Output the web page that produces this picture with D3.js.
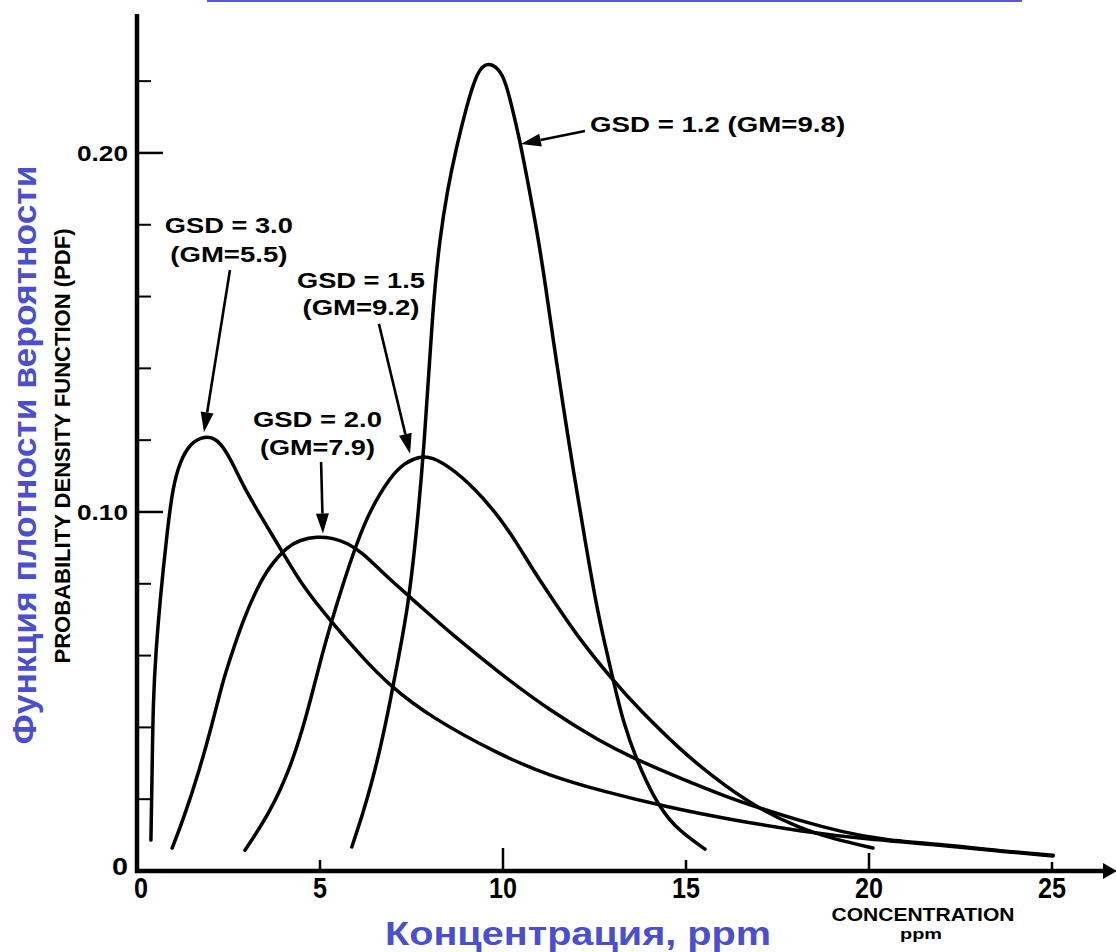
<!DOCTYPE html>
<html><head><meta charset="utf-8">
<script src="https://cdn.jsdelivr.net/npm/d3@7"></script>
<style>html,body{margin:0;padding:0;background:#fff;} svg{display:block}</style>
</head><body><svg id="c" width="1116" height="952"></svg>
<script>
// ---------- data ----------
const xTickValues = [0, 5, 10, 15, 20, 25];
const xTickLabels = ["0", "5", "10", "15", "20", "25"];
const yLabelValues = [0, 0.10, 0.20];
const yTickLabels = ["0", "0.10", "0.20"];
const yMajorTicks = [0.10, 0.20];
const yMinorTicks = [0.02, 0.04, 0.06, 0.08, 0.12, 0.14, 0.16, 0.18, 0.22];

// [concentration ppm, pdf]
const gsd30 = [[0.38,0.0086],[0.41,0.0253],[0.44,0.0476],[0.52,0.0616],[0.63,0.0755],[0.82,0.0942],[0.98,0.1070],[1.17,0.1139],[1.45,0.1192],[1.86,0.1212],[2.16,0.1204],[2.40,0.1175],[2.65,0.1128],[2.90,0.1073],[3.44,0.0978],[3.99,0.0886],[4.54,0.0791],[5.27,0.0699],[6.17,0.0593],[6.91,0.0516],[8.01,0.0429],[9.92,0.0323],[11.28,0.0265],[12.65,0.0224],[14.48,0.0178],[16.28,0.0142],[18.11,0.0111],[19.95,0.0088],[22.21,0.0070],[23.58,0.0055],[25.03,0.0042]];
const gsd20 = [[0.96,0.0064],[1.26,0.0142],[1.72,0.0285],[2.08,0.0420],[2.35,0.0530],[2.54,0.0590],[2.90,0.0699],[3.28,0.0788],[3.63,0.0850],[4.10,0.0903],[4.45,0.0922],[4.92,0.0932],[5.36,0.0927],[5.74,0.0914],[6.17,0.0886],[6.72,0.0830],[7.38,0.0770],[7.92,0.0721],[8.63,0.0657],[9.92,0.0550],[11.28,0.0447],[12.65,0.0361],[13.55,0.0315],[14.75,0.0262],[16.12,0.0206],[17.02,0.0175],[18.11,0.0140],[19.21,0.0110],[20.38,0.0086],[22.21,0.0072],[23.58,0.0056],[25.03,0.0044]];
const gsd15 = [[2.95,0.0058],[3.63,0.0162],[4.18,0.0285],[4.54,0.0400],[4.80,0.0500],[5.05,0.0600],[5.30,0.0690],[5.63,0.0800],[6.01,0.0915],[6.37,0.1005],[6.91,0.1097],[7.32,0.1138],[7.73,0.1155],[8.06,0.1153],[8.55,0.1125],[9.18,0.1070],[9.84,0.0994],[10.38,0.0914],[10.82,0.0838],[11.37,0.0755],[12.02,0.0655],[13.01,0.0530],[13.74,0.0448],[14.84,0.0338],[15.74,0.0262],[16.83,0.0182],[18.11,0.0118],[19.02,0.0090],[20.11,0.0064]];
const gsd12 = [[5.87,0.0067],[6.15,0.0153],[6.42,0.0248],[6.67,0.0351],[6.91,0.0468],[7.16,0.0602],[7.40,0.0735],[7.62,0.0922],[7.86,0.1201],[8.03,0.1479],[8.13,0.1618],[8.27,0.1758],[8.48,0.1897],[8.73,0.2017],[9.00,0.2128],[9.29,0.2228],[9.59,0.2256],[10.01,0.2226],[10.24,0.2129],[10.46,0.2036],[10.72,0.1897],[10.97,0.1758],[11.18,0.1618],[11.37,0.1479],[11.65,0.1292],[11.93,0.1109],[12.24,0.0922],[12.56,0.0735],[12.76,0.0643],[13.01,0.0532],[13.29,0.0412],[13.65,0.0309],[14.11,0.0206],[14.65,0.0123],[15.52,0.0061]];
const seriesList = [gsd30, gsd20, gsd15, gsd12];

const labelLines = [["GSD = 3.0", "(GM=5.5)"], ["GSD = 1.5", "(GM=9.2)"], ["GSD = 2.0", "(GM=7.9)"], ["GSD = 1.2 (GM=9.8)"]];

// ---------- layout ----------
const svg = d3.select("#c");
const x = d3.scaleLinear().domain([0, 25]).range([137, 1052]);
const y = d3.scaleLinear().domain([0, 0.2387]).range([871, 14]);
const BLUE = "#4b4fcc";
const SANS = "'Liberation Sans', Arial, sans-serif";

function txt(g, s, px, py, size, opts = {}) {
  const t = g.append("text").attr("x", px).attr("y", py).text(s)
    .attr("font-family", opts.family || SANS)
    .attr("font-weight", "bold")
    .attr("font-size", size)
    .attr("fill", opts.fill || "#000")
    .attr("text-anchor", opts.anchor || "start");
  if (opts.width) t.attr("textLength", opts.width).attr("lengthAdjust", "spacingAndGlyphs");
  if (opts.transform) t.attr("transform", opts.transform);
  return t;
}

// blue link remnant at very top
svg.append("line").attr("x1", 207).attr("x2", 1022).attr("y1", 1).attr("y2", 1)
  .attr("stroke", "#5a5acc").attr("stroke-width", 2);

// axes
const ax = svg.append("g");
ax.append("line").attr("x1", x(0)).attr("x2", x(0)).attr("y1", y(0) + 2).attr("y2", y(0.2387))
  .attr("stroke", "#000").attr("stroke-width", 4.5);
ax.append("line").attr("x1", x(0) - 2).attr("x2", 1104).attr("y1", y(0)).attr("y2", y(0))
  .attr("stroke", "#000").attr("stroke-width", 4.5);
ax.append("path").attr("d", `M1103,${y(0) - 8} L1117,${y(0)} L1103,${y(0) + 8} Z`).attr("fill", "#000");

// y ticks (inward)
yMajorTicks.forEach(v => ax.append("line").attr("x1", x(0)).attr("x2", x(0) + 26)
  .attr("y1", y(v)).attr("y2", y(v)).attr("stroke", "#000").attr("stroke-width", 2.5));
yMinorTicks.forEach(v => ax.append("line").attr("x1", x(0)).attr("x2", x(0) + 14)
  .attr("y1", y(v)).attr("y2", y(v)).attr("stroke", "#000").attr("stroke-width", 2));
yLabelValues.forEach((v, i) => {
  txt(ax, yTickLabels[i], 128, y(v) + 8 - (v === 0 ? 4 : 0), v === 0 ? 23 : 22,
    { anchor: "end", width: v === 0 ? 16 : 51 });
});

// x ticks (inward, upward)
const xTickLen = v => (v === 10 ? 23 : v === 20 ? 18 : v === 25 ? 9 : v === 0 ? 0 : 11);
xTickValues.forEach((v, i) => {
  if (xTickLen(v) > 0)
    ax.append("line").attr("x1", x(v)).attr("x2", x(v)).attr("y1", y(0)).attr("y2", y(0) - xTickLen(v))
      .attr("stroke", "#000").attr("stroke-width", 2.5);
  const s = xTickLabels[i];
  txt(ax, s, x(v) + (v === 0 ? 4 : 0), 898, 30, { anchor: "middle", width: s.length * 14 });
});

// curves
const line = d3.line().x(d => x(d[0])).y(d => y(d[1])).curve(d3.curveBasis);
svg.append("g").selectAll("path").data(seriesList).join("path")
  .attr("d", line).attr("fill", "none").attr("stroke", "#000")
  .attr("stroke-width", 3.5).attr("stroke-linejoin", "round").attr("stroke-linecap", "round");

// annotations (positioned in data units)
const ann = svg.append("g");
function arrow(d1, d2) {
  const x1 = x(d1[0]), y1 = y(d1[1]), x2 = x(d2[0]), y2 = y(d2[1]);
  const dx = x2 - x1, dy = y2 - y1, L = Math.hypot(dx, dy), ux = dx / L, uy = dy / L;
  const hl = 20, hw = 6.5;
  const bx = x2 - ux * hl, by = y2 - uy * hl;
  ann.append("line").attr("x1", x1).attr("y1", y1).attr("x2", bx).attr("y2", by)
    .attr("stroke", "#000").attr("stroke-width", 2.6);
  ann.append("path").attr("d", `M${x2},${y2} L${bx - uy * hw},${by + ux * hw} L${bx + uy * hw},${by - ux * hw} Z`)
    .attr("fill", "#000");
}
// GSD 3.0
txt(ann, labelLines[0][0], x(2.51), y(0.1777), 22, { anchor: "middle", width: 128 });
txt(ann, labelLines[0][1], x(2.51), y(0.1696), 22, { anchor: "middle", width: 117 });
arrow([2.54, 0.1674], [1.83, 0.1222]);
// GSD 1.5
txt(ann, labelLines[1][0], x(6.12), y(0.1624), 22, { anchor: "middle", width: 128 });
txt(ann, labelLines[1][1], x(6.12), y(0.1549), 22, { anchor: "middle", width: 117 });
arrow([6.61, 0.1524], [7.46, 0.1162]);
// GSD 2.0
txt(ann, labelLines[2][0], x(4.93), y(0.1237), 22, { anchor: "middle", width: 129 });
txt(ann, labelLines[2][1], x(4.93), y(0.1159), 22, { anchor: "middle", width: 115 });
arrow([5.03, 0.1139], [5.08, 0.0940]);
// GSD 1.2
txt(ann, labelLines[3][0], x(12.38), y(0.2058), 22, { width: 255 });
arrow([12.24, 0.2061], [10.49, 0.2025]);

// axis titles
txt(svg, "CONCENTRATION", 923, 921, 19, { anchor: "middle", width: 183 });
txt(svg, "ppm", 921, 939, 15, { anchor: "middle", width: 42 });
txt(svg, "Концентрация, ppm", 578, 945, 34, { anchor: "middle", fill: BLUE, width: 386 });
txt(svg, "PROBABILITY DENSITY FUNCTION (PDF)", 0, 0, 22,
  { anchor: "middle", width: 435, transform: "translate(70,446) rotate(-90)" });
txt(svg, "Функция плотности вероятности", 0, 0, 33,
  { anchor: "middle", fill: BLUE, width: 579, transform: "translate(36,455) rotate(-90)" });
</script>
</body></html>
